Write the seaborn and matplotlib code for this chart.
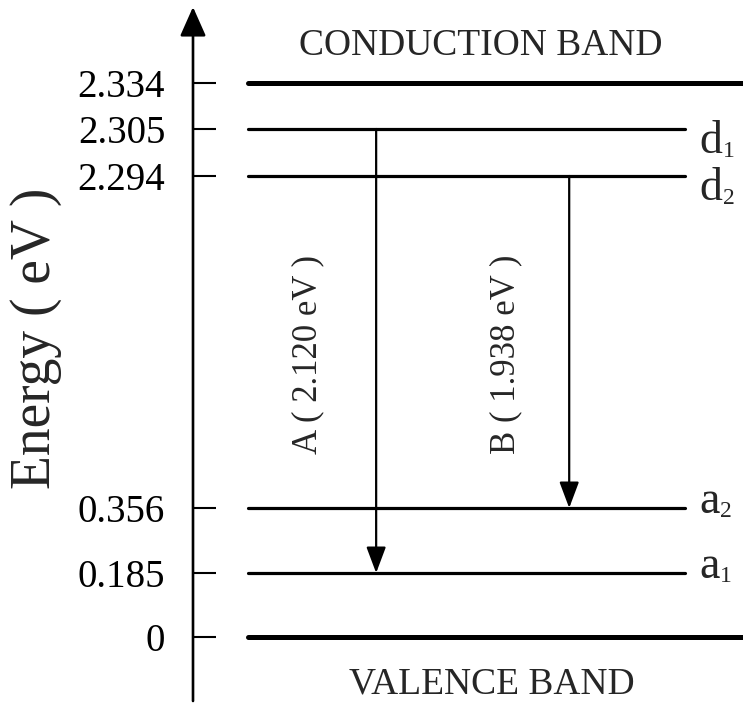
import numpy as np
import pandas as pd
import matplotlib
matplotlib.use("Agg")
import matplotlib.pyplot as plt
import seaborn as sns

# ---- data -------------------------------------------------------------
band_names = ["CONDUCTION BAND", "VALENCE BAND"]
band_energy = [2.334, 0.0]

level_names = ["d", "d", "a", "a"]
level_index = ["1", "2", "2", "1"]
level_energy = [2.305, 2.294, 0.356, 0.185]

transition_names = ["A", "B"]
transition_from = [2.305, 2.294]   # donor levels
transition_to = [0.185, 0.356]     # acceptor levels

tick_values = [0.0, 0.185, 0.356, 2.294, 2.305, 2.334]
tick_labels = ["0", "0.185", "0.356", "2.294", "2.305", "2.334"]

# ---- schematic (broken) energy scale ----------------------------------
# energies are spread out so that closely spaced levels stay readable
scale_E = np.array([-0.1, 0.0, 0.185, 0.356, 2.294, 2.305, 2.334, 2.40])
scale_pos = np.array([0.0, 64.0, 128.0, 193.0, 525.0, 572.0, 618.0, 694.0])


def fwd(e):
    return np.interp(e, scale_E, scale_pos)


def inv(p):
    return np.interp(p, scale_pos, scale_E)


sns.set_theme(style="white")
plt.rcParams["font.family"] = ["Liberation Serif", "DejaVu Serif"]

W, H = 743, 703
PT = 72 / 100  # points per pixel at 100 dpi
fig = plt.figure(figsize=(W / 100, H / 100), dpi=100)
fig.patch.set_facecolor("white")
ax = fig.add_axes([193 / W, 2 / H, 550 / W, 694 / H])
ax.set_facecolor("white")
ax.set_yscale("function", functions=(fwd, inv))
ax.set_xlim(0, 1)
ax.set_ylim(scale_E[0], scale_E[-1])

# band edges (thick lines spanning to the right edge)
bands = pd.DataFrame({
    "name": np.repeat(band_names, 2),
    "x": [0.10, 1.0] * len(band_names),
    "energy": np.repeat(band_energy, 2),
})
sns.lineplot(data=bands, x="x", y="energy", units="name", estimator=None,
             color="black", linewidth=3.6, ax=ax, legend=False, sort=False)

# defect levels
levels = pd.DataFrame({
    "name": np.repeat([n + i for n, i in zip(level_names, level_index)], 2),
    "x": [0.10, 0.895] * len(level_names),
    "energy": np.repeat(level_energy, 2),
})
sns.lineplot(data=levels, x="x", y="energy", units="name", estimator=None,
             color="black", linewidth=2.3, ax=ax, legend=False, sort=False)

# level names (main letters; subscripts are added once the layout is known)
letters = []
for name, e in zip(level_names, level_energy):
    drop = 24 if name == "d" else 5   # baseline below the level, px
    t = ax.annotate(name, xy=(0.92, e), xytext=(0, -drop * PT),
                    textcoords="offset points", ha="left", va="baseline",
                    fontsize=33, annotation_clip=False)
    letters.append((t, drop))

# band names
ax.annotate(band_names[0], xy=(0.524, band_energy[0]), xytext=(0, 27),
            textcoords="offset points", ha="center", va="center", fontsize=27)
ax.annotate(band_names[1], xy=(0.544, band_energy[1]), xytext=(0, -56 * PT),
            textcoords="offset points", ha="center", va="baseline",
            fontsize=27)

# radiative transitions donor -> acceptor
arrow_x = [0.333, 0.684]
text_x = [0.209, 0.569]
for name, e0, e1, xa, xt in zip(transition_names, transition_from,
                                transition_to, arrow_x, text_x):
    ax.annotate("", xy=(xa, e1), xytext=(xa, e0),
                arrowprops=dict(arrowstyle="-|>,head_length=0.8,head_width=0.3",
                                color="black", lw=1.6, mutation_scale=20,
                                shrinkA=0, shrinkB=0))
    ax.text(xt, 0.5, f"{name} ( {e0 - e1:.3f} eV )",
            transform=ax.get_xaxis_transform(), rotation=90,
            ha="center", va="center", fontsize=25)

# energy axis with arrow head
for s in ax.spines.values():
    s.set_visible(False)
ax.annotate("", xy=(0, 1), xycoords="axes fraction", xytext=(0, 0),
            textcoords="axes fraction",
            arrowprops=dict(arrowstyle="-|>,head_length=0.9,head_width=0.4",
                            color="black", lw=1.9, mutation_scale=20,
                            shrinkA=0, shrinkB=0),
            annotation_clip=False)

ax.set_yticks(tick_values)
ax.set_yticklabels(tick_labels)
ax.set_xticks([])
ax.tick_params(axis="y", left=True, direction="in", length=16.5, width=1.5,
               pad=20, labelsize=28, colors="black")
ax.set_xlabel("")
ax.set_ylabel("")
ax.grid(False)

fig.text(36 / W, 1 - 338 / H, "Energy ( eV )", rotation=90, ha="center",
         va="center", fontsize=40)

# subscripts placed right after each letter
fig.canvas.draw()
renderer = fig.canvas.get_renderer()
for (t, drop), idx, e in zip(letters, level_index, level_energy):
    bb = t.get_window_extent(renderer)
    x_disp, _ = ax.transData.transform((0.92, e))
    dx = (bb.x1 - x_disp + 1) * PT
    ax.annotate(idx, xy=(0.92, e), xytext=(dx, -(drop + 4) * PT),
                textcoords="offset points", ha="left", va="baseline",
                fontsize=17, annotation_clip=False)

fig.savefig("out.png", dpi=100, facecolor="white")
